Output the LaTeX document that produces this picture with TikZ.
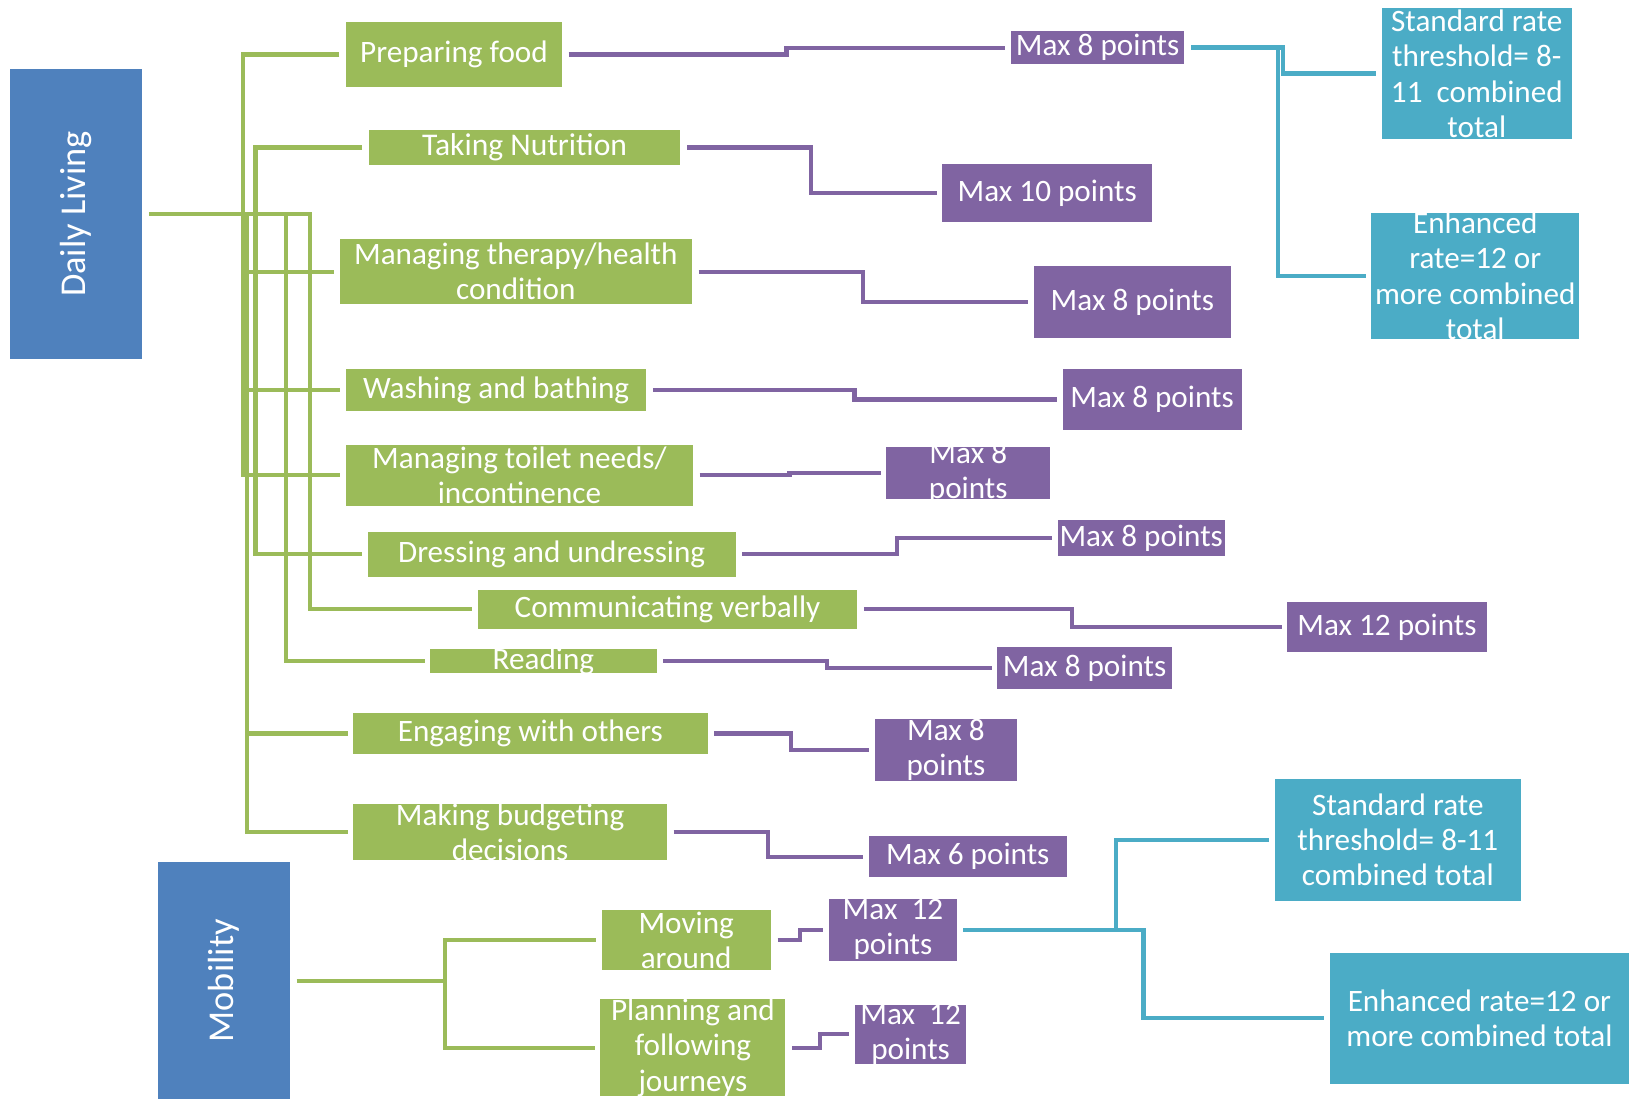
\documentclass[tikz,border=0pt]{standalone}
\usepackage{fontspec}
\usepackage{graphicx}
\setmainfont{Carlito}
\usetikzlibrary{calc}
\definecolor{dlgreen}{HTML}{9BBB59}
\definecolor{dlpurple}{HTML}{8064A2}
\definecolor{dlblue}{HTML}{4F81BD}
\definecolor{dlcyan}{HTML}{4BACC6}
\tikzset{
  box/.style={rectangle, inner xsep=0pt, inner ysep=-12pt, text=white, align=center,
    font=\fontsize{15}{16.9}\selectfont},
  gbox/.style={box, fill=dlgreen},
  pbox/.style={box, fill=dlpurple},
  cbox/.style={box, fill=dlcyan},
  bbox/.style={box, fill=dlblue, font=\fontsize{17.5}{20}\selectfont},
  gline/.style={draw=dlgreen, line width=2pt, shorten <=3pt, shorten >=2.5pt},
  pline/.style={draw=dlpurple, line width=2pt, shorten <=3pt, shorten >=2.5pt},
  cline/.style={draw=dlcyan, line width=2.2pt, shorten <=3pt, shorten >=2.5pt}
}
\begin{document}
\begin{tikzpicture}[x=0.5pt, y=-0.5pt]
\useasboundingbox (0,0) rectangle (1568,1058);
\node[bbox, minimum width=63.5pt, minimum height=140pt] (dl) at (73.5,206) {\rotatebox{90}{Daily Living}};
\node[bbox, minimum width=63.5pt, minimum height=114pt] (mob) at (215.5,944) {\rotatebox{90}{Mobility}};

\node[gbox, minimum width=104pt, minimum height=31.5pt] (pf) at (437,52.5) {Preparing food};
\node[gbox, minimum width=150pt, minimum height=17pt, font=\fontsize{15.2}{16.9}\selectfont] (tn) at (505,142) {Taking Nutrition};
\node[gbox, minimum width=169.5pt, minimum height=31.5pt] (mt) at (496.5,261.5) {Managing therapy/health\\condition};
\node[gbox, minimum width=144.5pt, minimum height=20.5pt] (wb) at (477.5,375.5) {Washing and bathing};
\node[gbox, minimum width=167pt, minimum height=29.5pt] (tt) at (500,457.5) {Managing toilet needs/\\incontinence};
\node[gbox, minimum width=177pt, minimum height=21.5pt] (du) at (531,533.5) {Dressing and undressing};
\node[gbox, minimum width=182.5pt, minimum height=18.5pt] (cv) at (642.5,586.5) {Communicating verbally};
\node[gbox, minimum width=109pt, minimum height=11.5pt] (rd) at (523,636.5) {Reading};
\node[gbox, minimum width=170.5pt, minimum height=20pt] (eo) at (510.5,706) {Engaging with others};
\node[gbox, minimum width=151pt, minimum height=27pt] (mb) at (491,801) {Making budgeting\\decisions};
\node[gbox, minimum width=81.5pt, minimum height=29pt] (ma) at (660.5,905) {Moving\\around};
\node[gbox, minimum width=89pt, minimum height=46.5pt] (pj) at (667,1008.5) {Planning and\\following\\journeys};

\node[pbox, minimum width=83.5pt, minimum height=16pt] (p1) at (1056.5,46) {Max 8 points};
\node[pbox, minimum width=101pt, minimum height=28pt] (p2) at (1008,186) {Max 10 points};
\node[pbox, minimum width=95pt, minimum height=34.5pt] (p3) at (1090,290.5) {Max 8 points};
\node[pbox, minimum width=86pt, minimum height=29.5pt] (p4) at (1109,384.5) {Max 8 points};
\node[pbox, minimum width=79pt, minimum height=25pt] (p5) at (932,455) {Max 8\\points};
\node[pbox, minimum width=80.5pt, minimum height=17pt] (p6) at (1098.5,518) {Max 8 points};
\node[pbox, minimum width=96pt, minimum height=24.5pt] (p7) at (1335,603.5) {Max 12 points};
\node[pbox, minimum width=84pt, minimum height=20pt] (p8) at (1044,643) {Max 8 points};
\node[pbox, minimum width=68.5pt, minimum height=30pt] (p9) at (910.5,722) {Max 8\\points};
\node[pbox, minimum width=95.5pt, minimum height=19.5pt] (p10) at (931.5,824.5) {Max 6 points};
\node[pbox, minimum width=61.5pt, minimum height=30pt] (p11) at (859.5,895) {Max\ \ 12\\points};
\node[pbox, minimum width=53.5pt, minimum height=28.5pt] (p12) at (876.5,995.5) {Max\ \ 12\\points};

\node[cbox, minimum width=91.5pt, minimum height=63pt] (c1) at (1421.5,71) {Standard rate\\threshold= 8-\\11\ \ combined\\total};
\node[cbox, minimum width=100pt, minimum height=60.5pt] (c2) at (1420,265.5) {Enhanced\\rate=12 or\\more combined\\total};
\node[cbox, minimum width=118.5pt, minimum height=58.5pt] (c3) at (1345.5,808.5) {Standard rate\\threshold= 8-11\\combined total};
\node[cbox, minimum width=144pt, minimum height=63pt] (c4) at (1424,980) {Enhanced rate=12 or\\more combined total};

\coordinate (tr1) at (234,0);
\coordinate (tr2) at (238,0);
\coordinate (tr3) at (246,0);
\coordinate (tr4) at (275,0);
\coordinate (tr5) at (298,0);
\coordinate (tr6) at (428,0);

\draw[gline] (dl.east) -| (tr5 |- cv.west) -- (cv.west);
\draw[gline, shorten <=0pt] (tr4 |- dl.east) |- (rd.west);
\draw[gline] (pf.west) -| (tr1 |- tt.west) -- (tt.west);
\draw[gline, shorten <=0pt] (tr1 |- mt.west) -- (mt.west);
\draw[gline, shorten <=0pt] (tr1 |- wb.west) -- (wb.west);
\draw[gline] (tn.west) -| (tr3 |- du.west) -- (du.west);
\draw[gline, shorten <=0pt] (tr2 |- dl.east) |- (mb.west);
\draw[gline, shorten <=0pt] (tr2 |- eo.west) -- (eo.west);
\draw[gline] (mob.east) -| (tr6 |- ma.west) -- (ma.west);
\draw[gline, shorten <=0pt] (tr6 |- mob.east) |- (pj.west);

\foreach \a/\b in {pf/p1,tn/p2,mt/p3,wb/p4,tt/p5,du/p6,cv/p7,rd/p8,eo/p9,mb/p10,ma/p11,pj/p12}
  \draw[pline] (\a.east) -| ($(\a.east)!.5!(\b.west)$) |- (\b.west);

\foreach \a/\b in {p1/c1,p1/c2,p11/c3,p11/c4}
  \draw[cline] (\a.east) -| ($(\a.east)!.5!(\b.west)$) |- (\b.west);
\end{tikzpicture}
\end{document}
